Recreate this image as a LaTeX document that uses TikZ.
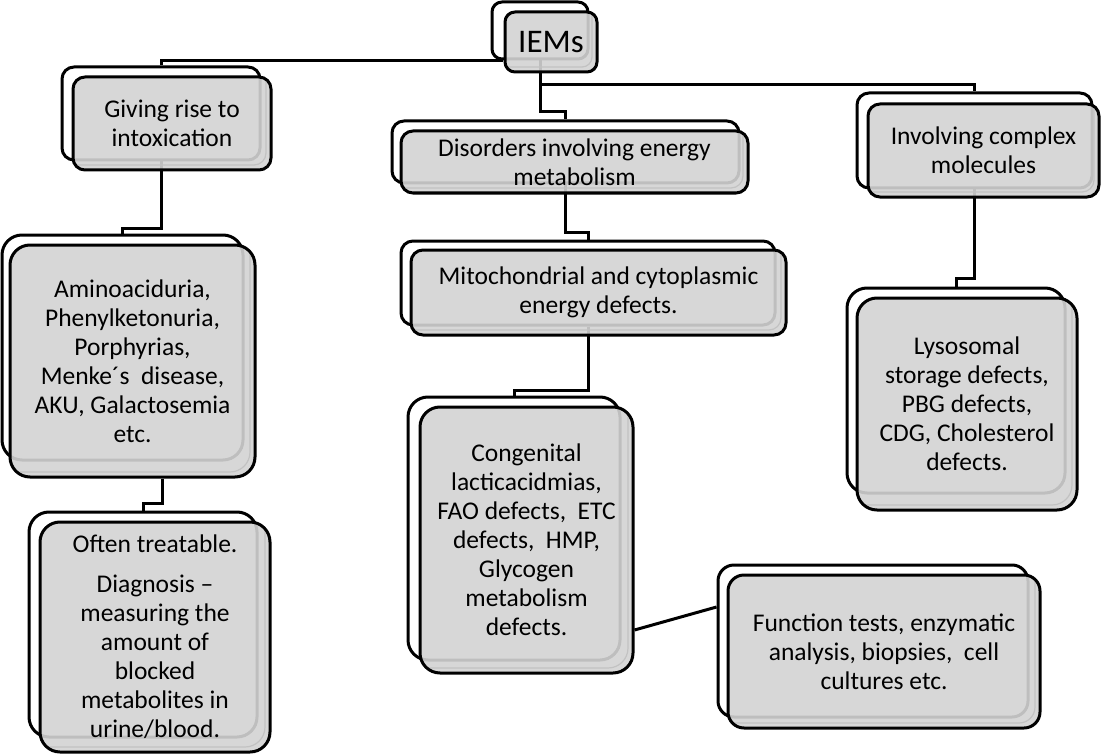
\documentclass[tikz,border=0pt]{standalone}
\usepackage{fontspec}
\setmainfont{Carlito}
\usepackage{tikz}
\usetikzlibrary{positioning,backgrounds,calc}
\definecolor{boxgray}{HTML}{D3D3D3}
\definecolor{bevelgray}{HTML}{C2C2C2}

\begin{document}
\begin{tikzpicture}[x=1pt,y=-1pt,
  sz/.style n args={2}{minimum width=#1pt,minimum height=#2pt,inner sep=0pt},
  backbox/.style={draw,line width=3pt,fill=white,rounded corners=#1},
  backbox/.default=12pt,
  frontbox/.style={draw,line width=3pt,fill=boxgray,fill opacity=0.9,text opacity=1,
    rounded corners=#1,align=center,font=\fontsize{25.5}{29}\selectfont,
    path picture={\draw[bevelgray,line width=1.2pt,rounded corners=#1]
      ([shift={(-30pt,30pt)}]path picture bounding box.north west) rectangle
      ([shift={(-5pt,5pt)}]path picture bounding box.south east);}},
  frontbox/.default=12pt,
  link/.style={line width=3pt}]
  \useasboundingbox (0,0) rectangle (1102,754);

  % top
  \node[backbox=10pt,sz={96}{57}] (iemsB) at (540,30.5) {};
  \node[frontbox=10pt,sz={92}{60},font=\fontsize{33}{38}\selectfont] (iemsF) at (551,42) {IEMs};

  % first row
  \node[backbox,sz={198}{93}] (giveB) at (161,113.5) {};
  \node[frontbox,sz={198}{93}] (giveF) at (172,123.5) {Giving rise to\\intoxication};
  \node[backbox,sz={347}{62}] (disB) at (565.5,152) {};
  \node[frontbox,sz={347}{62}] (disF) at (574.5,162) {Disorders involving energy\\metabolism};
  \node[backbox,sz={235}{95}] (invB) at (974.5,140.5) {};
  \node[frontbox,sz={231}{93}] (invF) at (983.5,150.5) {Involving complex\\molecules};

  % left column
  \node[backbox=20pt,sz={241}{225}] (aminoB) at (122.5,347.5) {};
  \node[frontbox=20pt,sz={245}{232}] (aminoF) at (132.5,361)
    {Aminoaciduria,\\Phenylketonuria,\\Porphyrias,\\Menke´s~ disease,\\AKU, Galactosemia\\etc.};
  \node[backbox=20pt,sz={228}{225}] (oftenB) at (143,624.5) {};
  \node[frontbox=20pt,sz={230}{230}] (oftenF) at (155,637)
    {Often treatable.\\[11pt]Diagnosis –\\measuring the\\amount of\\blocked\\metabolites in\\urine/blood.};

  % middle column
  \node[backbox,sz={374}{84}] (mitoB) at (588,283) {};
  \node[frontbox,sz={375}{85}] (mitoF) at (598.5,292.5) {Mitochondrial and cytoplasmic\\energy defects.};
  \node[backbox=20pt,sz={212}{263}] (congB) at (514,528.5) {};
  \node[frontbox=20pt,sz={213}{266}] (congF) at (526.5,540)
    {Congenital\\lacticacidmias,\\FAO defects,~ ETC\\defects,~ HMP,\\Glycogen\\metabolism\\defects.};
  \node[backbox=16pt,sz={310}{152}] (funcB) at (873,641) {};
  \node[frontbox=16pt,sz={312}{153}] (funcF) at (884,651.5)
    {Function tests, enzymatic\\analysis, biopsies,~ cell\\cultures etc.};

  % right column
  \node[backbox=20pt,sz={218}{205}] (lysB) at (956,390.5) {};
  \node[frontbox=20pt,sz={220}{212}] (lysF) at (967,404)
    {Lysosomal\\storage defects,\\PBG defects,\\CDG, Cholesterol\\defects.};

  % connectors
  \begin{scope}[on background layer]
    \draw[link] ($(iemsB.south west)+(12,0)$) -| (giveB.north);
    \draw[link] (iemsB.south) -- (iemsB.south |- 0,112) -| (disB.north);
    \draw[link] (iemsB.south |- 0,85) -| (invB.north);
    \draw[link] (giveB.south) -- (giveB.south |- 0,228) -| (aminoB.north);
    \draw[link] ($(aminoF.south)+(30,0)$) -- ++(0,25) -| (oftenB.north);
    \draw[link] (disB.south) -- (disB.south |- 0,232) -| (mitoB.north);
    \draw[link] (mitoB.south) -- (mitoB.south |- 0,390) -| (congB.north);
    \draw[link] (invB.south) -- (invB.south |- 0,278) -| (lysB.north);
    \draw[link] (congF.east |- 0,630) -- (funcB.west |- 0,607);
  \end{scope}
\end{tikzpicture}
\end{document}
